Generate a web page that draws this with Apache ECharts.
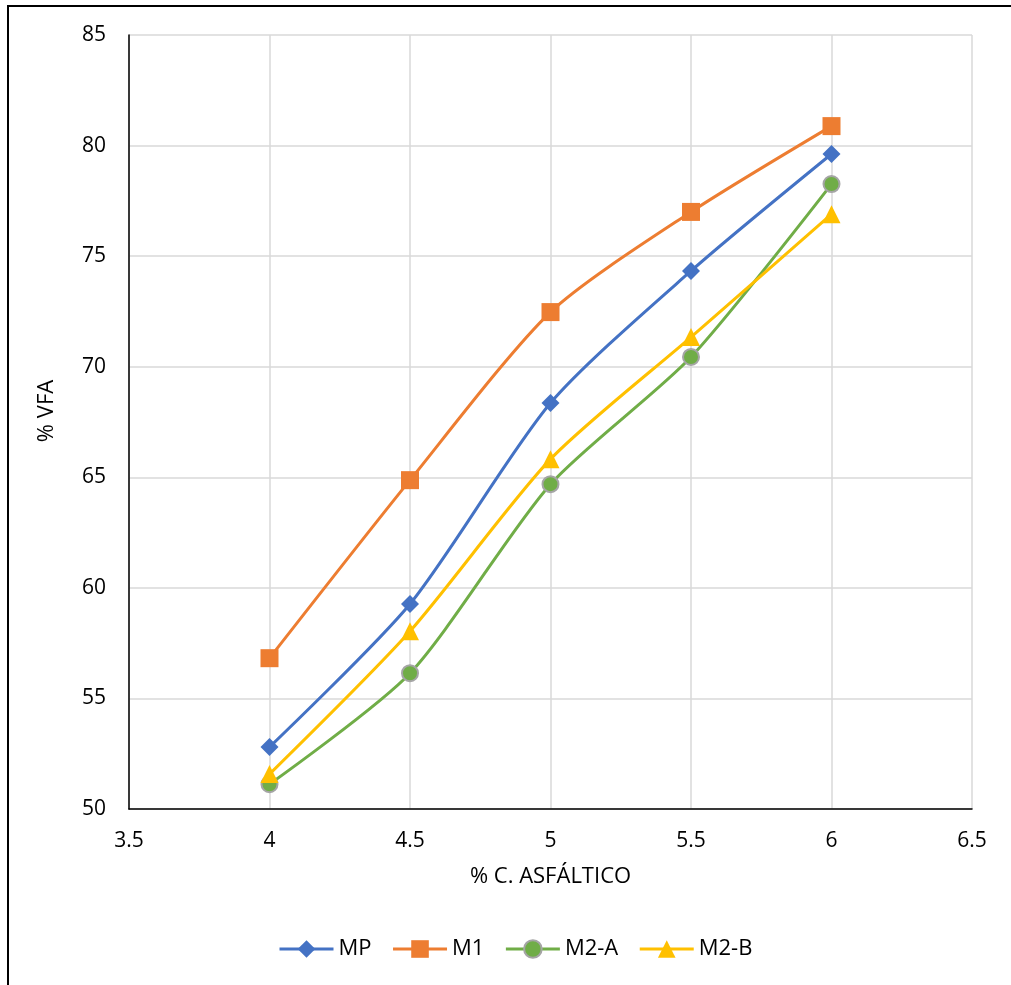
<!DOCTYPE html>
<html>
<head>
<meta charset="utf-8">
<script src="https://cdn.jsdelivr.net/npm/echarts@6/dist/echarts.min.js"></script>
<style>
  html, body { margin: 0; padding: 0; background: #fff; }
  #chart { width: 1011px; height: 985px; }
</style>
</head>
<body>
<div id="chart"></div>
<script>
// Asphalt content (%) on the x axis
const asphalt = [4, 4.5, 5, 5.5, 6];

// VFA (%) for each mix
const mp  = [52.8, 59.27, 68.36, 74.33, 79.62];
const m1  = [56.82, 64.87, 72.47, 77.0, 80.88];
const m2a = [51.12, 56.14, 64.69, 70.44, 78.26];
const m2b = [51.58, 58.04, 65.82, 71.34, 76.9];

const seriesNames = ['MP', 'M1', 'M2-A', 'M2-B'];

const pairs = ys => asphalt.map((x, i) => [x, ys[i]]);
const font = '"Open Sans", "Liberation Sans", sans-serif';

const chart = echarts.init(document.getElementById('chart'));

function lineSeries(name, ys, color, symbol, size, extraItem) {
  return {
    name: name,
    type: 'line',
    data: pairs(ys),
    smooth: 0.25,
    symbol: symbol,
    symbolSize: size,
    lineStyle: { color: color, width: 3 },
    itemStyle: Object.assign({ color: color }, extraItem || {}),
    emphasis: { disabled: true },
    z: 3
  };
}

chart.setOption({
  animation: false,
  backgroundColor: '#fff',
  textStyle: { fontFamily: font },
  graphic: [{
    type: 'rect',
    shape: { x: 8, y: 6, width: 1030, height: 1010 },
    style: { fill: 'none', stroke: '#000', lineWidth: 2 },
    silent: true
  }],
  grid: { left: 129, right: 39, top: 35, bottom: 176, containLabel: false },
  xAxis: {
    type: 'value',
    min: 3.5, max: 6.5, interval: 0.5,
    name: '% C. ASFÁLTICO',
    nameLocation: 'middle',
    nameGap: 57,
    nameTextStyle: { fontSize: 22, color: '#000', fontFamily: font },
    axisLine: { show: true, lineStyle: { color: '#000', width: 1.5 } },
    axisTick: { show: false },
    axisLabel: { fontSize: 21, color: '#000', margin: 22, fontFamily: font },
    splitLine: { show: true, lineStyle: { color: '#d9d9d9', width: 1.5 } }
  },
  yAxis: {
    type: 'value',
    min: 50, max: 85, interval: 5,
    name: '% VFA',
    nameLocation: 'middle',
    nameRotate: 90,
    nameGap: 71,
    nameTextStyle: { fontSize: 22, color: '#000', fontFamily: font, padding: [0, 0, 0, 22] },
    axisLine: { show: true, lineStyle: { color: '#000', width: 1.5 } },
    axisTick: { show: false },
    axisLabel: { fontSize: 21, color: '#000', margin: 23, fontFamily: font },
    splitLine: { show: true, lineStyle: { color: '#d9d9d9', width: 1.5 } }
  },
  legend: {
    data: seriesNames,
    bottom: 20,
    left: 273,
    itemWidth: 54,
    itemHeight: 22,
    itemGap: 20,
    lineStyle: { width: 3 },
    textStyle: { fontSize: 22, color: '#000', fontFamily: font }
  },
  series: [
    lineSeries(seriesNames[0], mp, '#4472C4', 'diamond', 18),
    lineSeries(seriesNames[1], m1, '#ED7D31', 'rect', 18),
    lineSeries(seriesNames[2], m2a, '#70AD47', 'circle', 16, { borderColor: '#A5A5A5', borderWidth: 2 }),
    lineSeries(seriesNames[3], m2b, '#FFC000', 'triangle', 18)
  ]
});
</script>
</body>
</html>
